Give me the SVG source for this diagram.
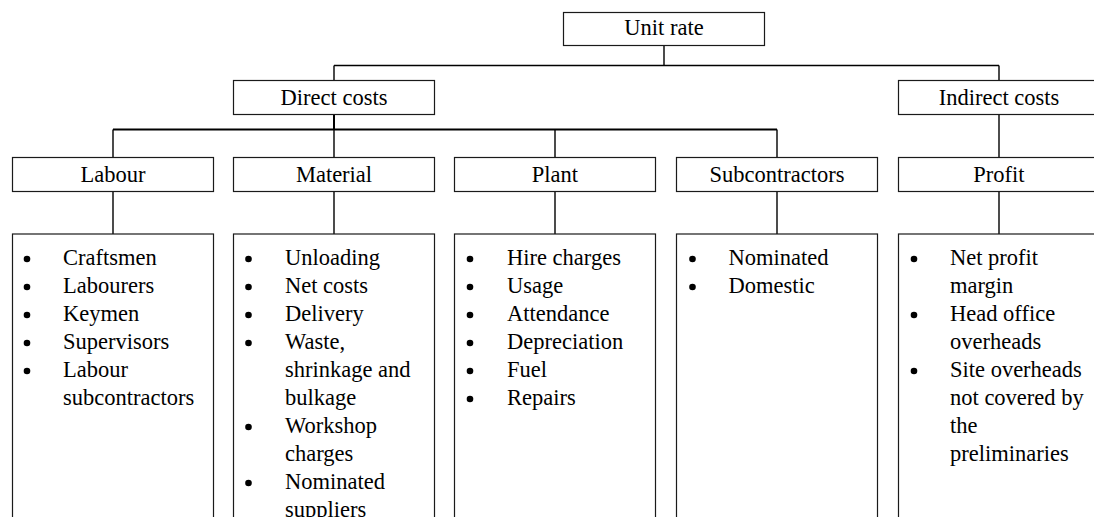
<svg xmlns="http://www.w3.org/2000/svg" width="1094" height="517" viewBox="0 0 1094 517">
  <style>
    .box { fill: #ffffff; stroke: #1a1a1a; stroke-width: 1.2; }
    .lbl { font-family: "Liberation Serif", "Times New Roman", serif; font-size: 22.5px; fill: #000; }
    .mid { text-anchor: middle; }
    .wire { fill: none; stroke: #000; stroke-width: 1.4; }
    .bul { fill: #000; }
  </style>

  <!-- connectors -->
  <g id="connectors" class="wire">
    <path d="M664,45.5 V65.5 M334,65.5 H999 M334,65.5 V80.5 M999,65.5 V80.5"/>
    <path d="M334,114.5 V129.5 M113,129.5 H777" stroke-width="2"/>
    <path d="M113,129.5 V157.5 M334,129.5 V157.5 M555,129.5 V157.5 M777,129.5 V157.5"/>
    <path d="M999,114.5 V157.5"/>
    <path d="M113,191.5 V234 M334,191.5 V234 M555,191.5 V234 M777,191.5 V234 M999,191.5 V234"/>
  </g>

  <!-- top level -->
  <g id="unit-rate">
    <rect class="box" x="563.5" y="12.5" width="201" height="33"/>
    <text class="lbl mid" x="664" y="35">Unit rate</text>
  </g>

  <g id="direct-costs">
    <rect class="box" x="233.5" y="80.5" width="201" height="34"/>
    <text class="lbl mid" x="334" y="105">Direct costs</text>
  </g>

  <g id="indirect-costs">
    <rect class="box" x="898.5" y="80.5" width="201" height="34"/>
    <text class="lbl mid" x="999" y="105">Indirect costs</text>
  </g>

  <!-- cost headings -->
  <g id="labour">
    <rect class="box" x="12.5" y="157.5" width="201" height="34"/>
    <text class="lbl mid" x="113" y="182">Labour</text>
  </g>
  <g id="material">
    <rect class="box" x="233.5" y="157.5" width="201" height="34"/>
    <text class="lbl mid" x="334" y="182">Material</text>
  </g>
  <g id="plant">
    <rect class="box" x="454.5" y="157.5" width="201" height="34"/>
    <text class="lbl mid" x="555" y="182">Plant</text>
  </g>
  <g id="subcontractors">
    <rect class="box" x="676.5" y="157.5" width="201" height="34"/>
    <text class="lbl mid" x="777" y="182">Subcontractors</text>
  </g>
  <g id="profit">
    <rect class="box" x="898.5" y="157.5" width="201" height="34"/>
    <text class="lbl mid" x="999" y="182">Profit</text>
  </g>

  <!-- item lists -->
  <g id="labour-items">
    <rect class="box" x="12.5" y="234" width="201" height="300"/>
    <g class="bul">
      <circle cx="27" cy="259" r="3.3"/><circle cx="27" cy="287" r="3.3"/><circle cx="27" cy="315" r="3.3"/>
      <circle cx="27" cy="343" r="3.3"/><circle cx="27" cy="371" r="3.3"/>
    </g>
    <text class="lbl" x="63" y="265">Craftsmen</text>
    <text class="lbl" x="63" y="293">Labourers</text>
    <text class="lbl" x="63" y="321">Keymen</text>
    <text class="lbl" x="63" y="349">Supervisors</text>
    <text class="lbl" x="63" y="377">Labour</text>
    <text class="lbl" x="63" y="405">subcontractors</text>
  </g>

  <g id="material-items">
    <rect class="box" x="233.5" y="234" width="201" height="300"/>
    <g class="bul">
      <circle cx="248.5" cy="259" r="3.3"/><circle cx="248.5" cy="287" r="3.3"/><circle cx="248.5" cy="315" r="3.3"/>
      <circle cx="248.5" cy="343" r="3.3"/><circle cx="248.5" cy="427" r="3.3"/><circle cx="248.5" cy="483" r="3.3"/>
    </g>
    <text class="lbl" x="285" y="265">Unloading</text>
    <text class="lbl" x="285" y="293">Net costs</text>
    <text class="lbl" x="285" y="321">Delivery</text>
    <text class="lbl" x="285" y="349">Waste,</text>
    <text class="lbl" x="285" y="377">shrinkage and</text>
    <text class="lbl" x="285" y="405">bulkage</text>
    <text class="lbl" x="285" y="433">Workshop</text>
    <text class="lbl" x="285" y="461">charges</text>
    <text class="lbl" x="285" y="489">Nominated</text>
    <text class="lbl" x="285" y="517">suppliers</text>
  </g>

  <g id="plant-items">
    <rect class="box" x="454.5" y="234" width="201" height="300"/>
    <g class="bul">
      <circle cx="470" cy="259" r="3.3"/><circle cx="470" cy="287" r="3.3"/><circle cx="470" cy="315" r="3.3"/>
      <circle cx="470" cy="343" r="3.3"/><circle cx="470" cy="371" r="3.3"/><circle cx="470" cy="399" r="3.3"/>
    </g>
    <text class="lbl" x="507" y="265">Hire charges</text>
    <text class="lbl" x="507" y="293">Usage</text>
    <text class="lbl" x="507" y="321">Attendance</text>
    <text class="lbl" x="507" y="349">Depreciation</text>
    <text class="lbl" x="507" y="377">Fuel</text>
    <text class="lbl" x="507" y="405">Repairs</text>
  </g>

  <g id="subcontractor-items">
    <rect class="box" x="676.5" y="234" width="201" height="300"/>
    <g class="bul">
      <circle cx="692.5" cy="259" r="3.3"/><circle cx="692.5" cy="287" r="3.3"/>
    </g>
    <text class="lbl" x="728.5" y="265">Nominated</text>
    <text class="lbl" x="728.5" y="293">Domestic</text>
  </g>

  <g id="profit-items">
    <rect class="box" x="898.5" y="234" width="201" height="300"/>
    <g class="bul">
      <circle cx="914" cy="259" r="3.3"/><circle cx="914" cy="315" r="3.3"/><circle cx="914" cy="371" r="3.3"/>
    </g>
    <text class="lbl" x="950" y="265">Net profit</text>
    <text class="lbl" x="950" y="293">margin</text>
    <text class="lbl" x="950" y="321">Head office</text>
    <text class="lbl" x="950" y="349">overheads</text>
    <text class="lbl" x="950" y="377">Site overheads</text>
    <text class="lbl" x="950" y="405">not covered by</text>
    <text class="lbl" x="950" y="433">the</text>
    <text class="lbl" x="950" y="461">preliminaries</text>
  </g>
</svg>
